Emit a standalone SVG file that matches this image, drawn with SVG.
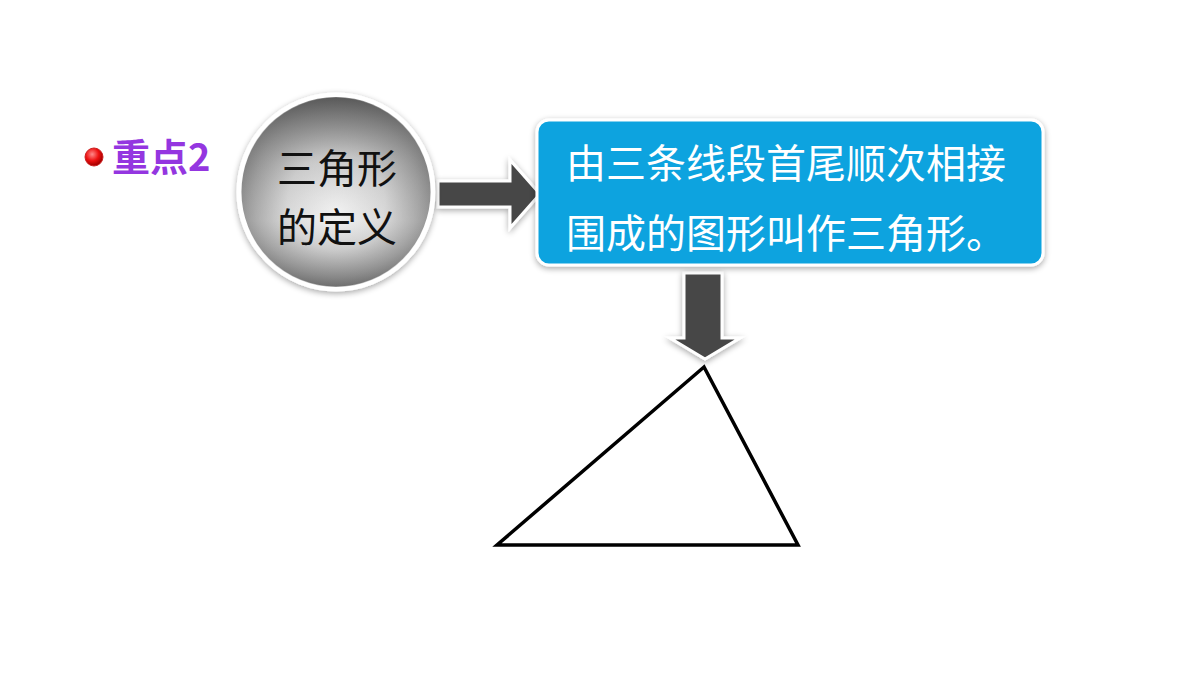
<svg xmlns="http://www.w3.org/2000/svg" width="1200" height="675" viewBox="0 0 1200 675">
<defs>
<radialGradient id="ball" cx="50%" cy="50%" r="50%" fx="50%" fy="60%">
<stop offset="0" stop-color="#f2f2f2"/>
<stop offset="0.5" stop-color="#d4d4d4"/>
<stop offset="0.85" stop-color="#9a9a9a"/>
<stop offset="1" stop-color="#7c7c7c"/>
</radialGradient>
<linearGradient id="ballTop" x1="0" y1="0" x2="0" y2="1">
<stop offset="0" stop-color="#444" stop-opacity="0.65"/>
<stop offset="0.35" stop-color="#888" stop-opacity="0.15"/>
<stop offset="0.65" stop-color="#fff" stop-opacity="0.2"/>
<stop offset="1" stop-color="#555" stop-opacity="0.45"/>
</linearGradient>
<radialGradient id="dot" cx="40%" cy="35%" r="60%">
<stop offset="0" stop-color="#ff8a8a"/>
<stop offset="0.6" stop-color="#ee1111"/>
<stop offset="1" stop-color="#aa0000"/>
</radialGradient>
<filter id="sh" x="-20%" y="-20%" width="140%" height="140%">
<feGaussianBlur in="SourceAlpha" stdDeviation="3"/>
<feOffset dx="0" dy="2" result="b"/>
<feComponentTransfer><feFuncA type="linear" slope="0.35"/></feComponentTransfer>
<feMerge><feMergeNode/><feMergeNode in="SourceGraphic"/></feMerge>
</filter>
</defs>
<style>
.cjk{font-family:"Noto Sans CJK SC","Liberation Sans",sans-serif;}
.arrow{fill:#474747;stroke:#ffffff;stroke-width:3;stroke-linejoin:miter;}
</style>
<rect width="1200" height="675" fill="#ffffff"/>

<g id="label">
<circle cx="94" cy="157" r="9" fill="url(#dot)" stroke="#cc2222" stroke-width="1"/>
<text x="112" y="171" class="cjk" font-size="38" font-weight="bold" fill="#9436e0">重点2</text>
</g>

<g id="connectors">
<path class="arrow" filter="url(#sh)" d="M438,181 L510,181 L510,160 L540,194 L510,228 L510,207 L438,207 Z"/>
<path class="arrow" filter="url(#sh)" d="M684,273 L722,273 L722,338 L740,338 L705,359 L670,338 L684,338 Z"/>
</g>

<g id="node-circle">
<circle cx="336" cy="192" r="97" fill="url(#ball)" stroke="#ffffff" stroke-width="5" filter="url(#sh)"/>
<circle cx="336" cy="192" r="95" fill="url(#ballTop)"/>
<text x="337" y="183" class="cjk" font-size="40" fill="#111111" text-anchor="middle">三角形</text>
<text x="337" y="242" class="cjk" font-size="40" fill="#111111" text-anchor="middle">的定义</text>
</g>

<g id="node-box">
<rect x="537" y="120" width="506" height="145" rx="12" fill="#0aa3df" stroke="#ffffff" stroke-width="3" filter="url(#sh)"/>
<text x="566" y="178" class="cjk" font-size="40" fill="#ffffff">由三条线段首尾顺次相接</text>
<text x="566" y="248" class="cjk" font-size="40" fill="#ffffff">围成的图形叫作三角形。</text>
</g>

<g id="triangle">
<polygon points="704,367 497,545 798,545" fill="none" stroke="#000000" stroke-width="3.5" stroke-linejoin="miter"/>
</g>
</svg>
